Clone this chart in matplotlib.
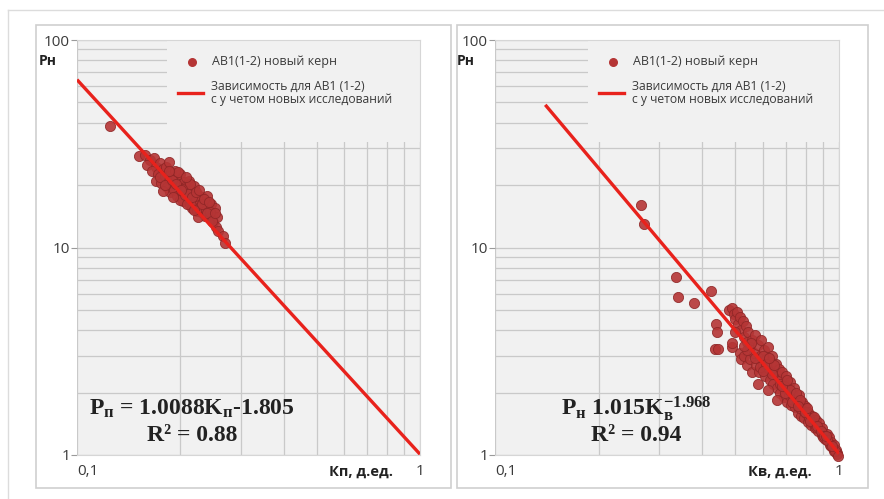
import matplotlib
matplotlib.use("Agg")
import matplotlib.pyplot as plt
from matplotlib.patches import Rectangle
from matplotlib.lines import Line2D
from matplotlib.ticker import LogLocator, NullFormatter

plt.rcParams["font.family"] = ["Open Sans", "DejaVu Sans"]
plt.rcParams["mathtext.fontset"] = "custom"
plt.rcParams["mathtext.rm"] = "Liberation Serif:bold"
plt.rcParams["mathtext.bf"] = "Liberation Serif:bold"
plt.rcParams["mathtext.it"] = "Liberation Serif:bold"

# ── данные ───────────────────────────────────────────────────────────────────
kp = [0.125, 0.152, 0.158, 0.163, 0.160, 0.168, 0.170, 0.165, 0.172, 0.175,
      0.178, 0.170, 0.176, 0.180, 0.182, 0.185, 0.183, 0.188, 0.190, 0.187,
      0.192, 0.195, 0.196, 0.198, 0.200, 0.202, 0.204, 0.205, 0.207, 0.210,
      0.212, 0.213, 0.215, 0.217, 0.218, 0.220, 0.222, 0.224, 0.225, 0.228,
      0.230, 0.232, 0.234, 0.236, 0.238, 0.240, 0.242, 0.244, 0.246, 0.248,
      0.250, 0.252, 0.254, 0.256, 0.258, 0.267, 0.270, 0.185, 0.193, 0.178,
      0.199, 0.206, 0.214, 0.221, 0.229, 0.237, 0.245, 0.203, 0.211, 0.226,
      0.174, 0.181, 0.189, 0.194, 0.201, 0.209, 0.216, 0.223, 0.231, 0.239,
      0.247, 0.253, 0.197, 0.208, 0.219, 0.227, 0.235, 0.243, 0.186, 0.191]
pn_left = [38.5, 27.5, 28.0, 26.5, 25.0, 27.0, 24.5, 23.5, 22.5, 25.5,
           23.8, 21.0, 20.5, 22.0, 24.5, 21.5, 19.5, 23.0, 20.5, 18.5,
           19.0, 21.8, 17.8, 20.0, 22.5, 18.5, 16.8, 20.8, 19.5, 17.5,
           21.0, 16.0, 18.8, 15.5, 17.2, 19.8, 16.5, 15.0, 18.0, 16.8,
           14.8, 17.5, 15.8, 14.2, 16.5, 17.8, 15.0, 13.8, 16.2, 14.5,
           13.2, 15.5, 12.5, 14.0, 12.0, 11.3, 10.5, 25.8, 23.5, 18.8,
           17.0, 18.0, 20.2, 17.8, 15.6, 15.2, 14.9, 19.2, 18.2, 14.0,
           21.8, 20.0, 21.2, 20.3, 19.0, 16.2, 17.6, 18.6, 16.2, 14.6,
           13.4, 14.6, 23.2, 21.8, 15.2, 19.0, 17.2, 16.6, 23.5, 17.5]

kv = [0.265, 0.272, 0.336, 0.340, 0.380, 0.425, 0.440, 0.443, 0.437, 0.445,
      0.487, 0.490, 0.480, 0.490, 0.495, 0.500, 0.505, 0.510, 0.515, 0.520,
      0.525, 0.530, 0.535, 0.540, 0.545, 0.550, 0.515, 0.520, 0.530, 0.540,
      0.550, 0.560, 0.560, 0.565, 0.570, 0.575, 0.580, 0.585, 0.590, 0.595,
      0.600, 0.605, 0.610, 0.615, 0.620, 0.625, 0.630, 0.635, 0.640, 0.645,
      0.650, 0.655, 0.660, 0.665, 0.670, 0.675, 0.680, 0.685, 0.690, 0.695,
      0.700, 0.705, 0.710, 0.715, 0.720, 0.725, 0.730, 0.735, 0.740, 0.745,
      0.750, 0.755, 0.760, 0.765, 0.770, 0.775, 0.780, 0.785, 0.790, 0.795,
      0.800, 0.810, 0.815, 0.820, 0.830, 0.835, 0.840, 0.850, 0.855, 0.860,
      0.870, 0.875, 0.880, 0.890, 0.895, 0.900, 0.910, 0.920, 0.930, 0.935,
      0.940, 0.950, 0.960, 0.965, 0.970, 0.980, 0.985, 0.990, 0.500, 0.580,
      0.620, 0.660, 0.540, 0.570, 0.600, 0.640, 0.690, 0.730, 0.770, 0.820,
      0.860, 0.900, 0.945, 0.975, 0.555, 0.588, 0.612, 0.648, 0.672, 0.698,
      0.722, 0.748, 0.772, 0.798, 0.825, 0.845, 0.865, 0.885, 0.905, 0.925,
      0.955, 0.995, 0.528, 0.602, 0.628, 0.682, 0.708, 0.758, 0.805, 0.915]
pn_right = [16.0, 13.0, 7.2, 5.8, 5.4, 6.2, 4.3, 3.9, 3.25, 3.25,
            3.3, 3.45, 5.0, 5.1, 4.8, 4.5, 4.9, 4.3, 4.6, 4.0,
            4.4, 3.7, 4.2, 3.5, 3.9, 3.3, 3.1, 2.9, 3.0, 2.7,
            2.9, 2.5, 3.6, 3.1, 3.8, 2.7, 3.4, 2.5, 3.0, 3.6,
            2.7, 3.2, 2.4, 2.9, 3.3, 2.6, 2.3, 2.8, 3.0, 2.2,
            2.5, 2.75, 2.1, 2.4, 2.6, 2.0, 2.3, 2.5, 1.9, 2.2,
            2.4, 1.8, 2.1, 1.95, 2.25, 1.75, 2.0, 1.85, 2.1, 1.7,
            1.9, 1.8, 1.6, 1.95, 1.75, 1.55, 1.8, 1.65, 1.5, 1.72,
            1.6, 1.45, 1.62, 1.52, 1.4, 1.55, 1.45, 1.35, 1.48, 1.4,
            1.3, 1.42, 1.33, 1.25, 1.35, 1.28, 1.2, 1.26, 1.17, 1.22,
            1.12, 1.15, 1.08, 1.12, 1.05, 1.06, 1.02, 1.01, 3.9, 2.2,
            2.05, 1.85, 3.2, 2.95, 3.0, 2.45, 2.15, 1.8, 1.68, 1.5,
            1.36, 1.22, 1.1, 1.04, 3.45, 2.65, 2.75, 2.7, 2.2, 2.0,
            2.05, 1.98, 1.85, 1.62, 1.46, 1.52, 1.38, 1.3, 1.24, 1.18,
            1.1, 0.99, 3.35, 2.55, 2.95, 2.15, 2.3, 1.72, 1.68, 1.23]

# линии аппроксимации: концы
fit_left_x = [0.1, 1.0]
fit_left_y = [64.4, 1.0088]
fit_right_x = [0.14, 1.0]
fit_right_y = [48.7, 1.015]

PANELS = [
    dict(x=kp, y=pn_left, fx=fit_left_x, fy=fit_left_y, xlabel="Кп, д.ед.",
         eq=r"$\mathrm{P_{п}}$ = 1.0088$\mathrm{K_{п}}$-1.805", r2="R² = 0.88",
         ax_rect=[77 / 884, 44 / 499, 343 / 884, 415 / 499],
         box=[36 / 884, 11 / 499, 415 / 884, 463 / 499], leg_x0=0.262, cx=0.335),
    dict(x=kv, y=pn_right, fx=fit_right_x, fy=fit_right_y, xlabel="Кв, д.ед.",
         eq=r"$\mathrm{P_{н}}$ 1.015$\mathrm{K_{в}^{-1.968}}$", r2="R² = 0.94",
         ax_rect=[495 / 884, 44 / 499, 344 / 884, 415 / 499],
         box=[457 / 884, 11 / 499, 411 / 884, 463 / 499], leg_x0=0.27, cx=0.41),
]

PLOT_BG = "#f1f1f1"
GRID_C = "#c9c9c9"
DOT_C = "#b53535"
DOT_EDGE = "#8e2626"
LINE_C = "#e8221c"
TXT_C = "#3a3a3a"

fig = plt.figure(figsize=(8.84, 4.99), dpi=100, facecolor="white")

# внешняя рамка
fig.add_artist(Line2D([8 / 884, 1.0], [1 - 10 / 499] * 2, color="#dcdcdc", lw=1))
fig.add_artist(Line2D([8 / 884] * 2, [0, 1 - 10 / 499], color="#dcdcdc", lw=1))

for p in PANELS:
    fig.add_artist(Rectangle((p["box"][0], p["box"][1]), p["box"][2], p["box"][3],
                             transform=fig.transFigure, facecolor="white",
                             edgecolor="#cfcfcf", lw=1.2, zorder=0))
    ax = fig.add_axes(p["ax_rect"])
    ax.set_facecolor(PLOT_BG)
    ax.set_xscale("log")
    ax.set_yscale("log")
    ax.set_xlim(0.1, 1)
    ax.set_ylim(1, 100)
    ax.set_axisbelow(True)

    ax.xaxis.set_minor_locator(LogLocator(base=10, subs=range(2, 10)))
    ax.yaxis.set_minor_locator(LogLocator(base=10, subs=range(2, 10)))
    ax.xaxis.set_minor_formatter(NullFormatter())
    ax.yaxis.set_minor_formatter(NullFormatter())
    ax.grid(True, which="both", color=GRID_C, lw=0.9)

    ax.set_xticks([0.1, 1])
    ax.set_xticklabels([])
    ax.set_yticks([1, 10, 100])
    ax.set_yticklabels(["1", "10", "100"], fontsize=11, color=TXT_C)
    ax.tick_params(axis="y", which="major", length=4, color="#9a9a9a", pad=1)
    ax.tick_params(axis="y", which="minor", length=0)
    ax.tick_params(axis="x", which="both", length=0)
    for s in ax.spines.values():
        s.set_color("#d6d6d6")
        s.set_linewidth(0.8)
    ax.spines["left"].set_visible(False)

    # область легенды закрывает сетку
    ax.add_patch(Rectangle((p["leg_x0"], 0.754), 1 - p["leg_x0"], 0.246,
                           transform=ax.transAxes, facecolor=PLOT_BG,
                           edgecolor="none", zorder=1))

    ax.scatter(p["x"], p["y"], s=54, color=DOT_C, edgecolors=DOT_EDGE,
               linewidths=0.6, alpha=0.9, zorder=3, clip_on=False)
    ax.plot(p["fx"], p["fy"], color=LINE_C, lw=2.4, zorder=4,
            solid_capstyle="butt")

    # легенда
    lx = p["leg_x0"] + 0.068
    ax.scatter([lx + 0.005], [0.948], s=30, color=DOT_C, transform=ax.transAxes,
               zorder=5)
    ax.text(lx + 0.063, 0.948, "AB1(1-2) новый керн", transform=ax.transAxes,
            fontsize=9, color=TXT_C, va="center", ha="left", zorder=5)
    ax.plot([lx - 0.035, lx + 0.037], [0.873, 0.873], color=LINE_C, lw=2.4,
            transform=ax.transAxes, zorder=5)
    ax.text(lx + 0.06, 0.873, "Зависимость для АВ1 (1-2)\nс у четом новых исследований",
            transform=ax.transAxes, fontsize=8.7, color=TXT_C, va="center",
            ha="left", linespacing=1.0, zorder=5)

    # подписи осей
    ax.text(-0.06, 0.95, "Рн", transform=ax.transAxes, fontsize=10,
            fontweight="bold", color="#222222", ha="right", va="center")
    ax.text(0.0, -0.04, "0,1", transform=ax.transAxes, fontsize=11,
            color=TXT_C, ha="left", va="center")
    ax.text(1.0, -0.04, "1", transform=ax.transAxes, fontsize=11,
            color=TXT_C, ha="center", va="center")
    ax.text(0.92, -0.04, p["xlabel"], transform=ax.transAxes, fontsize=10.5,
            fontweight="bold", color="#222222", ha="right", va="center")

    # уравнение
    ax.text(p["cx"], 0.112, p["eq"], transform=ax.transAxes, fontsize=17,
            family="Liberation Serif", fontweight="bold", color="#222222",
            ha="center", va="center", zorder=6)
    ax.text(p["cx"], 0.048, p["r2"], transform=ax.transAxes, fontsize=17,
            family="Liberation Serif", fontweight="bold", color="#222222",
            ha="center", va="center", zorder=6)

fig.savefig("out.png", dpi=100, facecolor="white")
